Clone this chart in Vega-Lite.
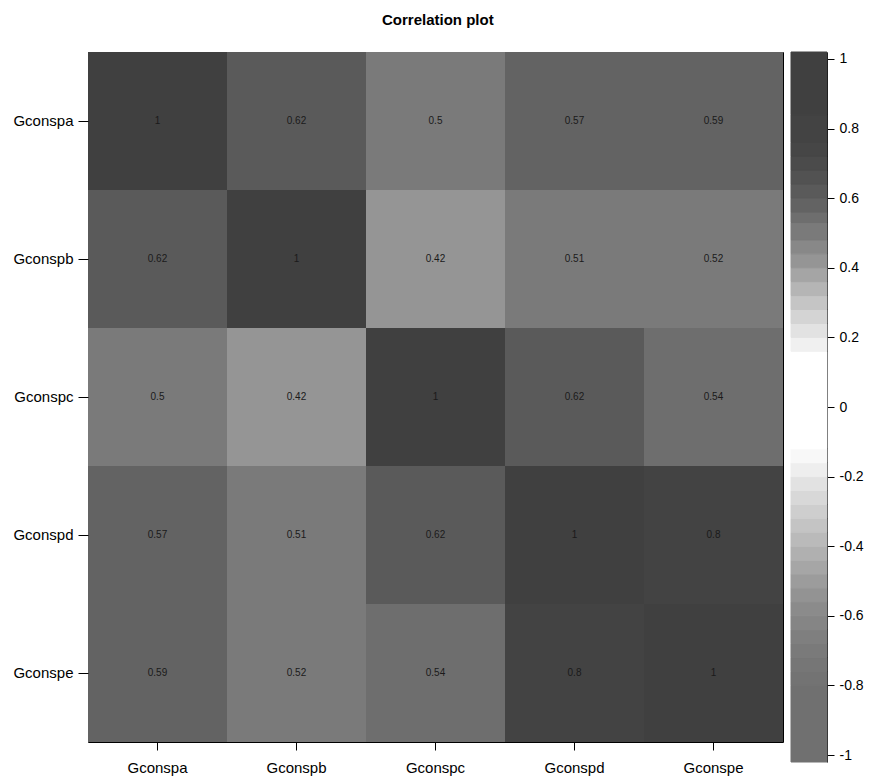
{
  "$schema": "https://vega.github.io/schema/vega-lite/v6.json",
  "background": "white",
  "padding": {"left": 12, "top": 12, "right": 5, "bottom": 5},
  "title": {"text": "Correlation plot", "fontSize": 15, "fontWeight": "bold", "font": "Liberation Sans", "color": "black", "anchor": "middle", "offset": 24},
  "config": {
    "font": "Liberation Sans",
    "axis": {"labelFont": "Liberation Sans", "labelColor": "black", "tickColor": "black", "grid": false}
  },
  "datasets": {
    "cells": [
      {"row": "Gconspa", "col": "Gconspa", "value": 1},
      {"row": "Gconspa", "col": "Gconspb", "value": 0.62},
      {"row": "Gconspa", "col": "Gconspc", "value": 0.5},
      {"row": "Gconspa", "col": "Gconspd", "value": 0.57},
      {"row": "Gconspa", "col": "Gconspe", "value": 0.59},
      {"row": "Gconspb", "col": "Gconspa", "value": 0.62},
      {"row": "Gconspb", "col": "Gconspb", "value": 1},
      {"row": "Gconspb", "col": "Gconspc", "value": 0.42},
      {"row": "Gconspb", "col": "Gconspd", "value": 0.51},
      {"row": "Gconspb", "col": "Gconspe", "value": 0.52},
      {"row": "Gconspc", "col": "Gconspa", "value": 0.5},
      {"row": "Gconspc", "col": "Gconspb", "value": 0.42},
      {"row": "Gconspc", "col": "Gconspc", "value": 1},
      {"row": "Gconspc", "col": "Gconspd", "value": 0.62},
      {"row": "Gconspc", "col": "Gconspe", "value": 0.54},
      {"row": "Gconspd", "col": "Gconspa", "value": 0.57},
      {"row": "Gconspd", "col": "Gconspb", "value": 0.51},
      {"row": "Gconspd", "col": "Gconspc", "value": 0.62},
      {"row": "Gconspd", "col": "Gconspd", "value": 1},
      {"row": "Gconspd", "col": "Gconspe", "value": 0.8},
      {"row": "Gconspe", "col": "Gconspa", "value": 0.59},
      {"row": "Gconspe", "col": "Gconspb", "value": 0.52},
      {"row": "Gconspe", "col": "Gconspc", "value": 0.54},
      {"row": "Gconspe", "col": "Gconspd", "value": 0.8},
      {"row": "Gconspe", "col": "Gconspe", "value": 1}
    ],
    "bands": [
      {"lo": -1.02, "hi": -0.80, "mid": -0.9},
      {"lo": -0.80, "hi": -0.76, "mid": -0.78},
      {"lo": -0.76, "hi": -0.72, "mid": -0.74},
      {"lo": -0.72, "hi": -0.68, "mid": -0.70},
      {"lo": -0.68, "hi": -0.64, "mid": -0.66},
      {"lo": -0.64, "hi": -0.60, "mid": -0.62},
      {"lo": -0.60, "hi": -0.56, "mid": -0.58},
      {"lo": -0.56, "hi": -0.52, "mid": -0.54},
      {"lo": -0.52, "hi": -0.48, "mid": -0.50},
      {"lo": -0.48, "hi": -0.44, "mid": -0.46},
      {"lo": -0.44, "hi": -0.40, "mid": -0.42},
      {"lo": -0.40, "hi": -0.36, "mid": -0.38},
      {"lo": -0.36, "hi": -0.32, "mid": -0.34},
      {"lo": -0.32, "hi": -0.28, "mid": -0.30},
      {"lo": -0.28, "hi": -0.24, "mid": -0.26},
      {"lo": -0.24, "hi": -0.20, "mid": -0.22},
      {"lo": -0.20, "hi": -0.16, "mid": -0.18},
      {"lo": -0.16, "hi": -0.12, "mid": -0.14},
      {"lo": -0.12, "hi": 0.16, "mid": 0.02},
      {"lo": 0.16, "hi": 0.20, "mid": 0.18},
      {"lo": 0.20, "hi": 0.24, "mid": 0.22},
      {"lo": 0.24, "hi": 0.28, "mid": 0.26},
      {"lo": 0.28, "hi": 0.32, "mid": 0.30},
      {"lo": 0.32, "hi": 0.36, "mid": 0.34},
      {"lo": 0.36, "hi": 0.40, "mid": 0.38},
      {"lo": 0.40, "hi": 0.44, "mid": 0.42},
      {"lo": 0.44, "hi": 0.48, "mid": 0.46},
      {"lo": 0.48, "hi": 0.53, "mid": 0.505},
      {"lo": 0.53, "hi": 0.56, "mid": 0.545},
      {"lo": 0.56, "hi": 0.60, "mid": 0.58},
      {"lo": 0.60, "hi": 0.64, "mid": 0.62},
      {"lo": 0.64, "hi": 0.68, "mid": 0.66},
      {"lo": 0.68, "hi": 0.72, "mid": 0.70},
      {"lo": 0.72, "hi": 0.76, "mid": 0.74},
      {"lo": 0.76, "hi": 0.84, "mid": 0.80},
      {"lo": 0.84, "hi": 1.02, "mid": 0.93}
    ]
  },
  "spacing": 6,
  "hconcat": [
    {
      "width": 695,
      "height": 690,
      "view": {"stroke": "black", "strokeWidth": 1},
      "data": {"name": "cells"},
      "encoding": {
        "x": {"field": "col", "type": "nominal", "sort": ["Gconspa", "Gconspb", "Gconspc", "Gconspd", "Gconspe"],
              "scale": {"paddingInner": 0, "paddingOuter": 0},
              "axis": {"title": null, "orient": "bottom", "labelAngle": 0, "labelFontSize": 15, "tickSize": 8, "labelPadding": 10, "domain": false}},
        "y": {"field": "row", "type": "nominal", "sort": ["Gconspa", "Gconspb", "Gconspc", "Gconspd", "Gconspe"],
              "scale": {"paddingInner": 0, "paddingOuter": 0},
              "axis": {"title": null, "orient": "left", "labelFontSize": 15, "tickSize": 10, "labelPadding": 5, "domain": false}}
      },
      "layer": [
        {
          "mark": {"type": "rect"},
          "encoding": {
            "color": {"field": "value", "type": "quantitative", "legend": null,
              "scale": {"type": "threshold",
                "domain": [-0.80, -0.76, -0.72, -0.68, -0.64, -0.60, -0.56, -0.52, -0.48, -0.44, -0.40, -0.36, -0.32, -0.28, -0.24, -0.20, -0.16, -0.12, 0.16, 0.20, 0.24, 0.28, 0.32, 0.36, 0.40, 0.44, 0.48, 0.53, 0.56, 0.60, 0.64, 0.68, 0.72, 0.76, 0.84],
                "range": ["#707070", "#737373", "#767676", "#7a7a7a", "#7f7f7f", "#858585", "#8b8b8b", "#939393", "#9c9c9c", "#a6a6a6", "#b0b0b0", "#bababa", "#c4c4c4", "#cecece", "#d8d8d8", "#e2e2e2", "#eeeeee", "#f8f8f8", "#ffffff", "#f0f0f0", "#e2e2e2", "#d4d4d4", "#c5c5c5", "#b5b5b5", "#a5a5a5", "#959595", "#888888", "#7a7a7a", "#6e6e6e", "#636363", "#5a5a5a", "#525252", "#4b4b4b", "#464646", "#434343", "#404040"]}}
          }
        },
        {
          "mark": {"type": "text", "fontSize": 10, "color": "#1a1a1a", "font": "Liberation Sans"},
          "encoding": {"text": {"field": "value", "type": "quantitative"}}
        }
      ]
    },
    {
      "width": 36,
      "height": 710,
      "view": {"stroke": null},
      "data": {"name": "bands"},
      "mark": {"type": "rect", "strokeWidth": 1},
      "encoding": {
        "y": {"field": "lo", "type": "quantitative", "scale": {"domain": [-1.02, 1.02], "nice": false, "zero": false},
              "axis": {"title": null, "orient": "right", "values": [-1, -0.8, -0.6, -0.4, -0.2, 0, 0.2, 0.4, 0.6, 0.8, 1],
                       "labelExpr": "toString(datum.value)", "labelFontSize": 14, "tickSize": 7, "labelPadding": 5,
                       "domain": true, "domainColor": "black", "grid": false}},
        "y2": {"field": "hi"},
        "color": {"field": "mid", "type": "quantitative", "legend": null,
          "scale": {"type": "threshold",
            "domain": [-0.80, -0.76, -0.72, -0.68, -0.64, -0.60, -0.56, -0.52, -0.48, -0.44, -0.40, -0.36, -0.32, -0.28, -0.24, -0.20, -0.16, -0.12, 0.16, 0.20, 0.24, 0.28, 0.32, 0.36, 0.40, 0.44, 0.48, 0.53, 0.56, 0.60, 0.64, 0.68, 0.72, 0.76, 0.84],
            "range": ["#707070", "#737373", "#767676", "#7a7a7a", "#7f7f7f", "#858585", "#8b8b8b", "#939393", "#9c9c9c", "#a6a6a6", "#b0b0b0", "#bababa", "#c4c4c4", "#cecece", "#d8d8d8", "#e2e2e2", "#eeeeee", "#f8f8f8", "#ffffff", "#f0f0f0", "#e2e2e2", "#d4d4d4", "#c5c5c5", "#b5b5b5", "#a5a5a5", "#959595", "#888888", "#7a7a7a", "#6e6e6e", "#636363", "#5a5a5a", "#525252", "#4b4b4b", "#464646", "#434343", "#404040"]}},
        "stroke": {"field": "mid", "type": "quantitative", "legend": null,
          "scale": {"type": "threshold",
            "domain": [-0.80, -0.76, -0.72, -0.68, -0.64, -0.60, -0.56, -0.52, -0.48, -0.44, -0.40, -0.36, -0.32, -0.28, -0.24, -0.20, -0.16, -0.12, 0.16, 0.20, 0.24, 0.28, 0.32, 0.36, 0.40, 0.44, 0.48, 0.53, 0.56, 0.60, 0.64, 0.68, 0.72, 0.76, 0.84],
            "range": ["#707070", "#737373", "#767676", "#7a7a7a", "#7f7f7f", "#858585", "#8b8b8b", "#939393", "#9c9c9c", "#a6a6a6", "#b0b0b0", "#bababa", "#c4c4c4", "#cecece", "#d8d8d8", "#e2e2e2", "#eeeeee", "#f8f8f8", "#ffffff", "#f0f0f0", "#e2e2e2", "#d4d4d4", "#c5c5c5", "#b5b5b5", "#a5a5a5", "#959595", "#888888", "#7a7a7a", "#6e6e6e", "#636363", "#5a5a5a", "#525252", "#4b4b4b", "#464646", "#434343", "#404040"]}}
      }
    }
  ]
}
